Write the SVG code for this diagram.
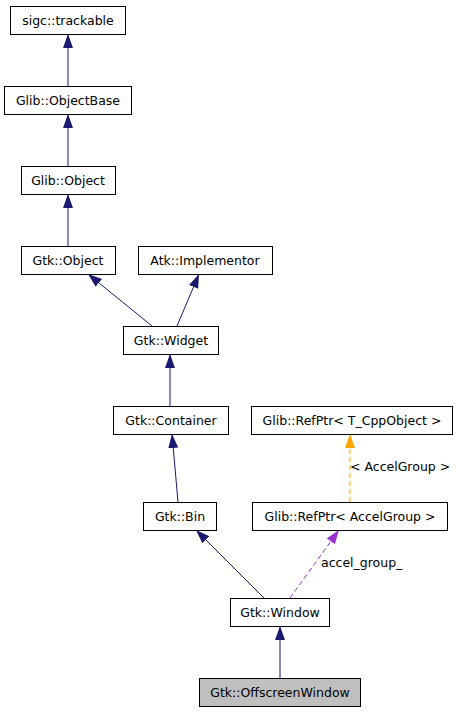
<svg xmlns="http://www.w3.org/2000/svg" width="460" height="712" viewBox="0 0 460 712">
<style>
.n rect{fill:#fff;stroke:#000;stroke-width:1}
.n text{font-family:"DejaVu Sans",sans-serif;font-size:12.5px;text-anchor:middle;fill:#000}
.e{fill:none;stroke:#191970;stroke-width:1}
.p{fill:none;stroke:#9a32cd;stroke-width:1;stroke-dasharray:5,3}
.o{fill:none;stroke:#ffa500;stroke-width:1;stroke-dasharray:5,3}
.lbl{font-family:"DejaVu Sans",sans-serif;font-size:12.5px;fill:#000}
</style>
<defs>
<marker id="ab" markerUnits="userSpaceOnUse" markerWidth="15" markerHeight="11" refX="14" refY="5" orient="auto" viewBox="0 0 15 11"><path d="M0,0 L14,5 L0,10 z" fill="#191970"/></marker>
<marker id="ap" markerUnits="userSpaceOnUse" markerWidth="15" markerHeight="11" refX="14" refY="5" orient="auto" viewBox="0 0 15 11"><path d="M0,0 L14,5 L0,10 z" fill="#9a32cd"/></marker>
<marker id="ao" markerUnits="userSpaceOnUse" markerWidth="15" markerHeight="11" refX="14" refY="5" orient="auto" viewBox="0 0 15 11"><path d="M0,0 L14,5 L0,10 z" fill="#ffa500"/></marker>
</defs>
<g id="edges">
<line class="e" x1="68" y1="86" x2="68" y2="34" marker-end="url(#ab)"/>
<line class="e" x1="68" y1="166" x2="68" y2="114" marker-end="url(#ab)"/>
<line class="e" x1="68" y1="246" x2="68" y2="194" marker-end="url(#ab)"/>
<line class="e" x1="152" y1="326" x2="88" y2="274" marker-end="url(#ab)"/>
<line class="e" x1="177" y1="326" x2="199" y2="274" marker-end="url(#ab)"/>
<line class="e" x1="170" y1="406" x2="170" y2="354" marker-end="url(#ab)"/>
<line class="e" x1="178" y1="502" x2="172" y2="434" marker-end="url(#ab)"/>
<line class="e" x1="264" y1="598" x2="196" y2="530" marker-end="url(#ab)"/>
<line class="p" x1="290" y1="598" x2="339" y2="530" marker-end="url(#ap)"/>
<line class="o" x1="350" y1="502" x2="350" y2="434" marker-end="url(#ao)"/>
<line class="e" x1="280" y1="678" x2="280" y2="626" marker-end="url(#ab)"/>
<text class="lbl" x="350" y="471">&lt; AccelGroup &gt;</text>
<text class="lbl" x="321" y="567">accel_group_</text>
</g>
<g id="sigc_trackable" class="n"><rect x="10.5" y="6.5" width="115" height="28"/><text x="68" y="25">sigc::trackable</text></g>
<g id="Glib_ObjectBase" class="n"><rect x="4.5" y="86.5" width="127" height="28"/><text x="68" y="105">Glib::ObjectBase</text></g>
<g id="Glib_Object" class="n"><rect x="21.5" y="166.5" width="94" height="28"/><text x="68" y="185">Glib::Object</text></g>
<g id="Gtk_Object" class="n"><rect x="21.5" y="246.5" width="94" height="28"/><text x="68" y="265">Gtk::Object</text></g>
<g id="Atk_Implementor" class="n"><rect x="138.5" y="246.5" width="134" height="28"/><text x="205" y="265">Atk::Implementor</text></g>
<g id="Gtk_Widget" class="n"><rect x="123.5" y="326.5" width="95" height="28"/><text x="171" y="345">Gtk::Widget</text></g>
<g id="Gtk_Container" class="n"><rect x="113.5" y="406.5" width="115" height="28"/><text x="171" y="425">Gtk::Container</text></g>
<g id="RefPtr_T" class="n"><rect x="251.5" y="406.5" width="201" height="28"/><text x="352" y="425">Glib::RefPtr&lt; T_CppObject &gt;</text></g>
<g id="Gtk_Bin" class="n"><rect x="143.5" y="502.5" width="73" height="28"/><text x="180" y="521">Gtk::Bin</text></g>
<g id="RefPtr_AccelGroup" class="n"><rect x="252.5" y="502.5" width="195" height="28"/><text x="350" y="521">Glib::RefPtr&lt; AccelGroup &gt;</text></g>
<g id="Gtk_Window" class="n"><rect x="230.5" y="598.5" width="99" height="28"/><text x="280" y="617">Gtk::Window</text></g>
<g id="Gtk_OffscreenWindow" class="n"><rect x="199.5" y="678.5" width="161" height="28" style="fill:#bfbfbf"/><text x="280" y="697">Gtk::OffscreenWindow</text></g>
</svg>
